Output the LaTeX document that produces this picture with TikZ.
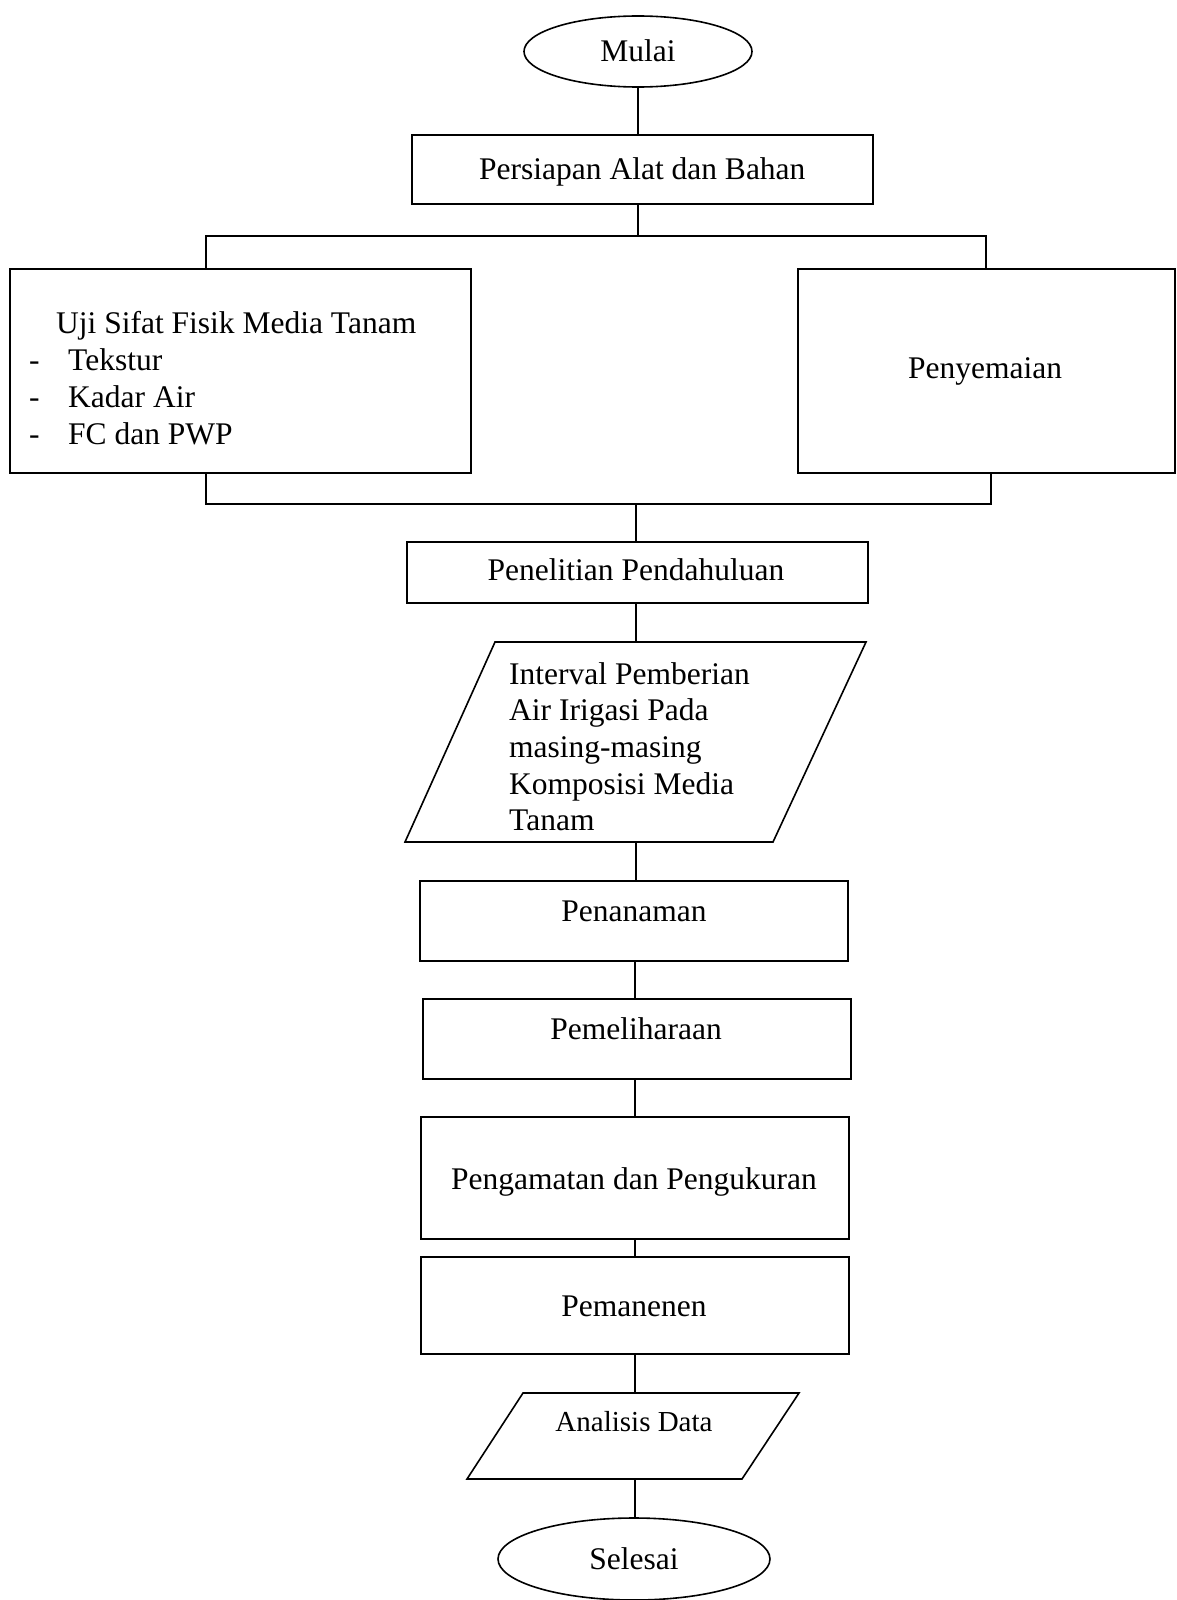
\documentclass[tikz,border=0pt]{standalone}
\usepackage{fontspec}
\setmainfont{Liberation Serif}
\usetikzlibrary{shapes.geometric}
\begin{document}
\begin{tikzpicture}[x=1pt,y=-1pt,
  every node/.style={font=\fontsize{31.5}{36.8}\selectfont, inner sep=0pt},
  ln/.style={line width=1.6pt},
  boxnode/.style={draw, line width=1.6pt, rectangle, anchor=north west},
  ovalnode/.style={draw, line width=1.6pt, ellipse},
  txt/.style={anchor=base}]
\useasboundingbox (0,0) rectangle (1176,1600);
% Start
\node[ovalnode, minimum width=228pt, minimum height=71pt] (mulai) at (638,51.5) {};
\node[txt] (tmulai) at (638,62) {Mulai};
% Persiapan
\node[boxnode, minimum width=461pt, minimum height=69pt] (persiapan) at (411,134) {};
\node[txt] at (persiapan.center) [yshift=-10pt] {Persiapan Alat dan Bahan};
% Left box
\node[boxnode, minimum width=461pt, minimum height=204pt] (uji) at (9,268) {};
\node[anchor=base west] (tuji) at (56,333) {Uji Sifat Fisik Media Tanam};
\node[anchor=base west] (d1) at (29,370) {-};
\node[anchor=base west] (d2) at (29,407) {-};
\node[anchor=base west] (d3) at (29,444) {-};
\node[anchor=base west] (i1) at (68,370) {Tekstur};
\node[anchor=base west] (i2) at (68,407) {Kadar Air};
\node[anchor=base west] (i3) at (68,444) {FC dan PWP};
% Right box
\node[boxnode, minimum width=377pt, minimum height=204pt] (semai) at (797,268) {};
\node[txt] at (985,378) {Penyemaian};
% Penelitian
\node[boxnode, minimum width=461pt, minimum height=61pt] (penelitian) at (406,541) {};
\node[txt] at (636,580) {Penelitian Pendahuluan};
% Parallelogram 1
\coordinate (p1tl) at (495,642);
\coordinate (p1tr) at (866,642);
\coordinate (p1br) at (773,842);
\coordinate (p1bl) at (405,842);
\coordinate (p1top) at (636,642);
\coordinate (p1bot) at (636,842);
\draw[ln, line join=miter] (p1tl) -- (p1tr) -- (p1br) -- (p1bl) -- cycle;
\node[anchor=base west] at (509,684) {Interval Pemberian};
\node[anchor=base west] at (509,720.5) {Air Irigasi Pada};
\node[anchor=base west] at (509,757) {masing-masing};
\node[anchor=base west] at (509,794) {Komposisi Media};
\node[anchor=base west] at (509,830.5) {Tanam};
% Penanaman
\node[boxnode, minimum width=428pt, minimum height=80pt] (tanam) at (419,880) {};
\node[txt] at (634,921) {Penanaman};
% Pemeliharaan
\node[boxnode, minimum width=428pt, minimum height=80pt] (pelihara) at (422,998) {};
\node[txt] at (636,1039) {Pemeliharaan};
% Pengamatan
\node[boxnode, minimum width=428pt, minimum height=122pt] (amat) at (420,1116) {};
\node[txt] at (634,1189) {Pengamatan dan Pengukuran};
% Pemanenan
\node[boxnode, minimum width=428pt, minimum height=97pt] (panen) at (420,1256) {};
\node[txt] at (634,1316) {Pemanenen};
% Parallelogram 2
\coordinate (p2tl) at (523,1393);
\coordinate (p2tr) at (799,1393);
\coordinate (p2br) at (742,1479);
\coordinate (p2bl) at (467,1479);
\coordinate (p2top) at (635,1393);
\coordinate (p2bot) at (635,1479);
\draw[ln, line join=miter] (p2tl) -- (p2tr) -- (p2br) -- (p2bl) -- cycle;
\node[txt, font=\fontsize{29}{34}\selectfont] at (634,1431) {Analisis Data};
% End
\node[ovalnode, minimum width=272pt, minimum height=82pt] (selesai) at (634,1559) {};
\node[txt] at (634,1569) {Selesai};
% Connectors
\draw[ln] (mulai.south) -- (mulai.south |- persiapan.north);
\coordinate (forkL) at (206,236);
\coordinate (forkR) at (986,236);
\coordinate (forkC) at (638,236);
\draw[ln] (persiapan.south -| forkC) -- (forkC);
\draw[ln] (forkL |- uji.north) -- (forkL) -- (forkR) -- (forkR |- semai.north);
\coordinate (joinL) at (206,504);
\coordinate (joinR) at (991,504);
\coordinate (joinC) at (636,504);
\draw[ln] (joinL |- uji.south) -- (joinL) -- (joinR) -- (joinR |- semai.south);
\draw[ln] (joinC) -- (joinC |- penelitian.north);
\draw[ln] (penelitian.south -| p1top) -- (p1top);
\draw[ln] (p1bot) -- (p1bot |- tanam.north);
\draw[ln] (tanam.south -| 635,0) -- (pelihara.north -| 635,0);
\draw[ln] (pelihara.south -| 635,0) -- (amat.north -| 635,0);
\draw[ln] (amat.south -| 635,0) -- (panen.north -| 635,0);
\draw[ln] (panen.south -| p2top) -- (p2top);
\draw[ln] (p2bot) -- (selesai.north -| p2bot);
\end{tikzpicture}
\end{document}
